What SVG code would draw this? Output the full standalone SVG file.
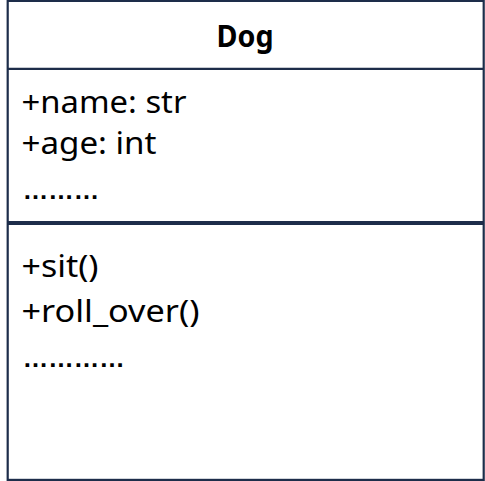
<svg xmlns="http://www.w3.org/2000/svg" width="485" height="481" viewBox="0 0 485 481">
  <style>
    .frame { fill: #ffffff; stroke: #1d2d4a; stroke-width: 2.2; }
    .div1 { stroke: #1d2d4a; stroke-width: 2.3; }
    .div2 { stroke: #1d2d4a; stroke-width: 4; }
    .title { font-family: "Noto Sans", "Liberation Sans", sans-serif; font-weight: bold; font-size: 31px; fill: #000; }
    .member { font-family: "Noto Sans", "Liberation Sans", sans-serif; font-size: 30.5px; fill: #000; }
    .dots { font-family: "Liberation Sans", sans-serif; font-weight: bold; font-size: 25.5px; fill: #000; }
  </style>
  <rect width="485" height="481" fill="#ffffff"/>
  <g id="class-Dog">
    <rect class="frame" x="7.7" y="0.9" width="476" height="479"/>
    <g id="dividers">
      <line class="div1" x1="7.7" y1="68.8" x2="483.7" y2="68.8"/>
      <line class="div2" x1="7.7" y1="222.9" x2="483.7" y2="222.9"/>
    </g>
    <text class="title" x="216.5" y="46.7" textLength="57" lengthAdjust="spacingAndGlyphs">Dog</text>
    <g id="attributes">
      <text class="member" x="21.5" y="113" textLength="165" lengthAdjust="spacingAndGlyphs">+name: str</text>
      <text class="member" x="21.5" y="154" textLength="135" lengthAdjust="spacingAndGlyphs">+age: int</text>
      <text class="dots" x="22.8" y="199">………</text>
    </g>
    <g id="methods">
      <text class="member" x="21.5" y="276.7" textLength="77" lengthAdjust="spacingAndGlyphs">+sit()</text>
      <text class="member" x="21.5" y="321.7" textLength="178" lengthAdjust="spacingAndGlyphs">+roll_over()</text>
      <text class="dots" x="22.8" y="367">…………</text>
    </g>
  </g>
</svg>
